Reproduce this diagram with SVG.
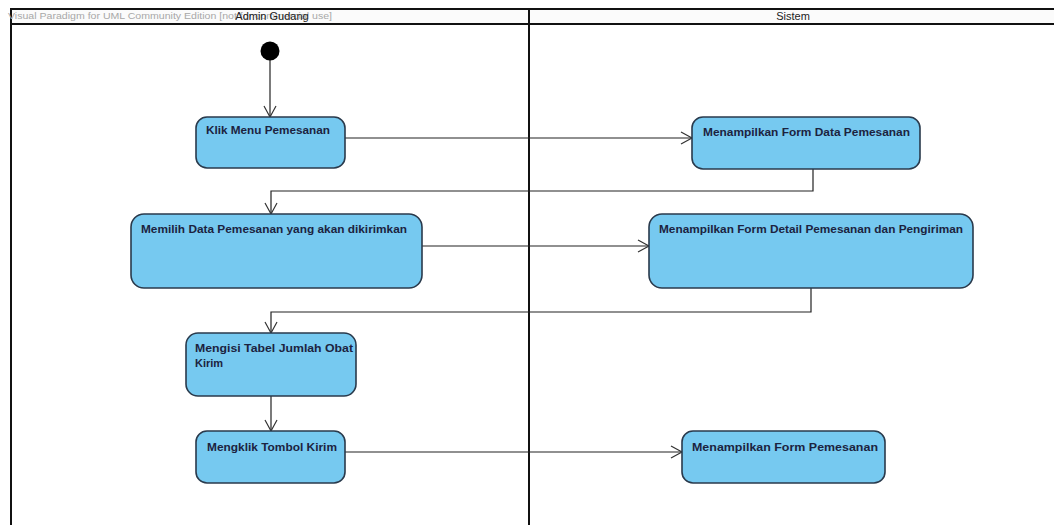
<svg xmlns="http://www.w3.org/2000/svg" width="1054" height="525" viewBox="0 0 1054 525">
  <style>
    .lane { fill: none; stroke: #111; stroke-width: 2; }
    .hdr { font-family: "Liberation Sans", Arial, sans-serif; font-size: 11px; fill: #222; text-anchor: middle; }
    .wm { font-family: "Liberation Sans", Arial, sans-serif; font-size: 9.5px; fill: #a8a8a8; }
    .act { fill: #76c9f0; stroke: #2a3a4c; stroke-width: 1.6; }
    .lbl { font-family: "Liberation Sans", Arial, sans-serif; font-size: 11px; font-weight: bold; fill: #1c2340; }
    .flow { fill: none; stroke: #222; stroke-width: 1.2; }
  </style>
  <defs>
    <marker id="open" markerWidth="14" markerHeight="14" refX="12" refY="7" orient="auto" markerUnits="userSpaceOnUse">
      <path d="M1,1 L12,7 L1,13" fill="none" stroke="#333" stroke-width="1.2"/>
    </marker>
  </defs>

  <rect width="1054" height="525" fill="#ffffff"/>

  <!-- swimlane frame -->
  <g id="lanes">
    <rect x="11" y="9" width="1043" height="15" fill="#fbfbfb"/>
    <line class="lane" x1="11" y1="9" x2="1054" y2="9"/>
    <line class="lane" x1="11" y1="24" x2="1054" y2="24"/>
    <line class="lane" x1="11" y1="8" x2="11" y2="525"/>
    <line class="lane" x1="529" y1="8" x2="529" y2="525"/>
    <text class="wm" x="8" y="19" textLength="324" lengthAdjust="spacingAndGlyphs">Visual Paradigm for UML Community Edition [not for commercial use]</text>
    <text class="hdr" x="272" y="20">Admin Gudang</text>
    <text class="hdr" x="793" y="20">Sistem</text>
  </g>

  <!-- control flows -->
  <g id="connectors">
    <line class="flow" x1="270" y1="60" x2="270" y2="117" marker-end="url(#open)"/>
    <line class="flow" x1="345" y1="138" x2="692" y2="138" marker-end="url(#open)"/>
    <polyline class="flow" points="813,169 813,191 271,191 271,214" marker-end="url(#open)"/>
    <line class="flow" x1="422" y1="246" x2="649" y2="246" marker-end="url(#open)"/>
    <polyline class="flow" points="811,288 811,312 271,312 271,333" marker-end="url(#open)"/>
    <line class="flow" x1="271" y1="396" x2="271" y2="431" marker-end="url(#open)"/>
    <line class="flow" x1="345" y1="452" x2="682" y2="452" marker-end="url(#open)"/>
  </g>

  <g id="start">
    <circle cx="270" cy="51" r="9.5" fill="#000"/>
  </g>

  <g id="klik-menu">
    <rect class="act" x="196" y="117" width="149" height="51" rx="11"/>
    <text class="lbl" x="206" y="134" textLength="124" lengthAdjust="spacingAndGlyphs">Klik Menu Pemesanan</text>
  </g>

  <g id="form-data">
    <rect class="act" x="692" y="117" width="228" height="52" rx="11"/>
    <text class="lbl" x="703" y="136" textLength="207" lengthAdjust="spacingAndGlyphs">Menampilkan Form Data Pemesanan</text>
  </g>

  <g id="memilih-data">
    <rect class="act" x="131" y="214" width="291" height="74" rx="13"/>
    <text class="lbl" x="141" y="233" textLength="266" lengthAdjust="spacingAndGlyphs">Memilih Data Pemesanan yang akan dikirimkan</text>
  </g>

  <g id="form-detail">
    <rect class="act" x="649" y="214" width="324" height="74" rx="13"/>
    <text class="lbl" x="659" y="233" textLength="304" lengthAdjust="spacingAndGlyphs">Menampilkan Form Detail Pemesanan dan Pengiriman</text>
  </g>

  <g id="mengisi-tabel">
    <rect class="act" x="186" y="333" width="170" height="63" rx="12"/>
    <text class="lbl" x="195" y="352" textLength="158" lengthAdjust="spacingAndGlyphs">Mengisi Tabel Jumlah Obat</text>
    <text class="lbl" x="195" y="367">Kirim</text>
  </g>

  <g id="mengklik-kirim">
    <rect class="act" x="196" y="431" width="149" height="52" rx="11"/>
    <text class="lbl" x="207" y="451" textLength="130" lengthAdjust="spacingAndGlyphs">Mengklik Tombol Kirim</text>
  </g>

  <g id="form-pemesanan">
    <rect class="act" x="682" y="431" width="203" height="52" rx="11"/>
    <text class="lbl" x="692" y="451" textLength="186" lengthAdjust="spacingAndGlyphs">Menampilkan Form Pemesanan</text>
  </g>
</svg>
